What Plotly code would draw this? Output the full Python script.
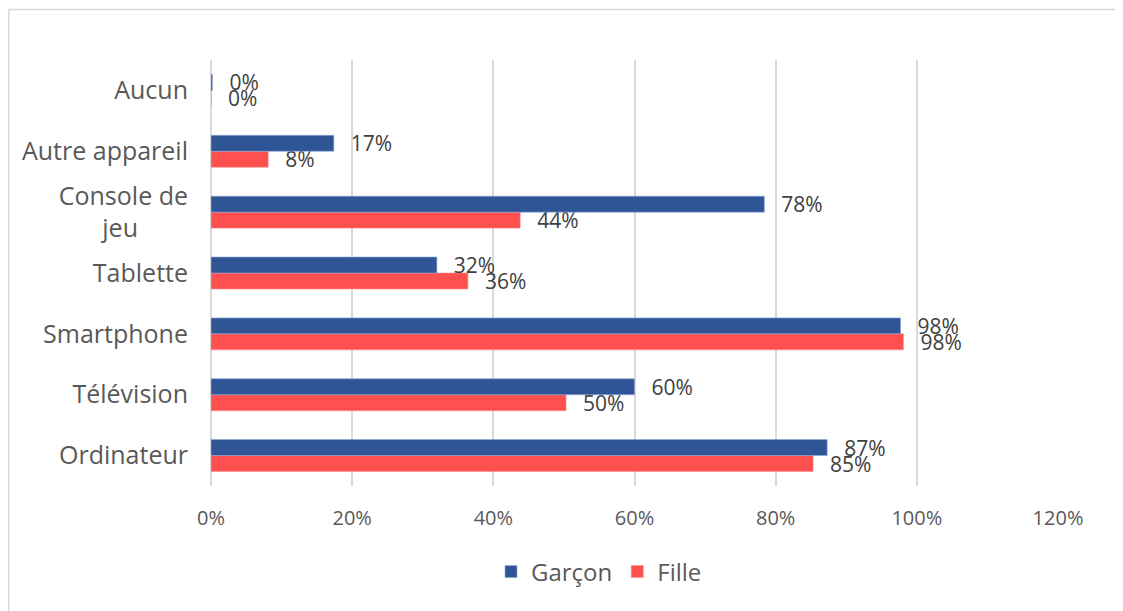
import plotly.graph_objects as go

categories = ["Ordinateur", "Télévision", "Smartphone", "Tablette",
              "Console de jeu", "Autre appareil", "Aucun"]
tick_labels = ["Ordinateur", "Télévision", "Smartphone", "Tablette",
               "Console de<br>jeu\u2003\u2003", "Autre appareil", "Aucun"]
garcon = [0.873, 0.600, 0.977, 0.320, 0.784, 0.174, 0.002]
fille = [0.853, 0.503, 0.981, 0.364, 0.438, 0.081, 0.0]
x_ticks = [0, 0.2, 0.4, 0.6, 0.8, 1.0, 1.2]

FONT = "Open Sans"
OFF = 8  # page body margin
W, H = 1123 - OFF, 611 - OFF
L, R, T, B = 211 - OFF, 65, 60 - OFF, 125
PW, PH = W - L - R, H - T - B

fig = go.Figure()
common = dict(orientation="h", texttemplate="\u2002\u2009%{x:.0%}",
              textposition="outside", constraintext="none", cliponaxis=False,
              textfont=dict(family=FONT, size=21, color="#404040"))
fig.add_trace(go.Bar(y=categories, x=fille, name="Fille", legendrank=2,
                     marker=dict(color="#FF5050", line=dict(color="#FF8A8A", width=0.6)),
                     **common))
fig.add_trace(go.Bar(y=categories, x=garcon, name="Garçon", legendrank=1,
                     marker=dict(color="#2F5597", line=dict(color="#8FAADC", width=0.6)),
                     **common))

def px_x(px):
    return (px - OFF - L) / PW

def px_y(py):
    return (H - B - (py - OFF)) / PH

fig.update_layout(
    width=W, height=H,
    margin=dict(l=L, r=R, t=T, b=B),
    barmode="group", bargap=0.475, bargroupgap=0,
    paper_bgcolor="white", plot_bgcolor="white",
    font=dict(family=FONT, color="#595959"),
    showlegend=True,
    legend=dict(orientation="h", x=px_x(599), y=px_y(572), xanchor="center",
                yanchor="middle", font=dict(family=FONT, size=24, color="#595959"),
                itemwidth=30, bgcolor="rgba(0,0,0,0)"),
    xaxis=dict(range=[0, 1.2], tickvals=x_ticks, tickformat=".0%",
               showgrid=True, gridcolor="#D9D9D9", gridwidth=1.5,
               zeroline=True, zerolinecolor="#D9D9D9", zerolinewidth=1.5,
               showline=False, ticks="", ticklabelstandoff=18,
               tickfont=dict(family=FONT, size=20, color="#595959"),
               fixedrange=True),
    yaxis=dict(type="category", categoryorder="array", categoryarray=categories,
               tickvals=categories, ticktext=tick_labels,
               showgrid=False, zeroline=False, showline=False, ticks="",
               ticklabelstandoff=22,
               tickfont=dict(family=FONT, size=25, color="#595959"),
               fixedrange=True),
    shapes=[
        dict(type="line", xref="paper", yref="paper", x0=px_x(8.8), x1=px_x(1123),
             y0=px_y(9.5), y1=px_y(9.5), line=dict(color="#D9D9D9", width=1.5)),
        dict(type="line", xref="paper", yref="paper", x0=px_x(8.8), x1=px_x(8.8),
             y0=px_y(9.5), y1=px_y(611), line=dict(color="#D9D9D9", width=1.5)),
    ],
)

fig.write_html("out.html")
